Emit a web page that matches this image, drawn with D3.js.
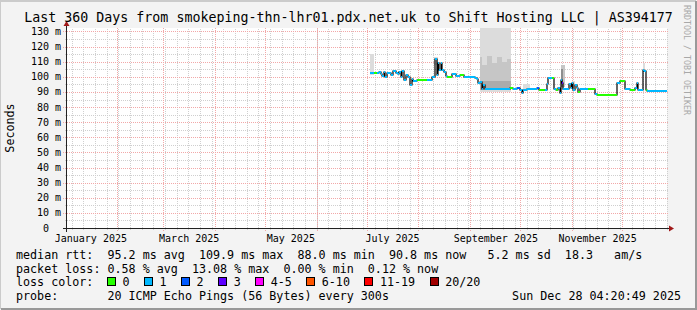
<!DOCTYPE html>
<html><head><meta charset="utf-8">
<script src="https://cdn.jsdelivr.net/npm/d3@7/dist/d3.min.js"></script>
<style>
html,body{margin:0;padding:0;background:#f3f3f3;}
svg{display:block;}
svg text{font-family:"DejaVu Sans Mono",monospace;white-space:pre;}
</style></head><body>
<svg id="chart" width="697" height="310"></svg>
<script>
// ---------------- DATA ----------------
const title = "Last 360 Days from smokeping-thn-lhr01.pdx.net.uk to Shift Hosting LLC | AS394177";
const timeStart = "2025-01-02 04:20:49";
const timeEnd = "2025-12-28 04:20:49";
const yMax = 132.3;
const yTickValues = [0,10,20,30,40,50,60,70,80,90,100,110,120,130];
const yTickLabels = ["0  ","10 m","20 m","30 m","40 m","50 m","60 m","70 m","80 m","90 m","100 m","110 m","120 m","130 m"];
const monthLabels = ["January 2025","March 2025","May 2025","July 2025","September 2025","November 2025"];
const monthLabelDates = ["2025-01-16 12","2025-03-16 12","2025-05-16 12","2025-07-16 12","2025-09-16 12","2025-11-16 12"];
const yAxisTitle = "Seconds";

const medianDates = ["2025-07-02 23","2025-07-05 09","2025-07-07 00","2025-07-08 09","2025-07-09 10","2025-07-10 09","2025-07-11 09","2025-07-12 04","2025-07-13 09","2025-07-15 10",
"2025-07-16 23","2025-07-18 10","2025-07-19 14","2025-07-20 09","2025-07-21 10","2025-07-22 09","2025-07-23 09","2025-07-24 10","2025-07-25 23","2025-07-26 23",
"2025-07-28 00","2025-07-28 23","2025-07-31 00","2025-08-06 00","2025-08-09 00","2025-08-10 09","2025-08-11 04","2025-08-12 00","2025-08-12 19","2025-08-13 13",
"2025-08-14 10","2025-08-15 09","2025-08-16 09","2025-08-17 10","2025-08-18 09","2025-08-21 09","2025-08-23 10","2025-08-25 23","2025-08-28 09","2025-09-03 23",
"2025-09-05 00","2025-09-05 23","2025-09-06 23","2025-09-08 00","2025-09-08 23","2025-09-09 23","2025-09-11 00","2025-09-24 23","2025-09-26 23","2025-09-29 00",
"2025-09-30 23","2025-10-02 00","2025-10-02 23","2025-10-05 00","2025-10-11 00","2025-10-12 13","2025-10-15 23","2025-10-17 00","2025-10-17 23","2025-10-20 04",
"2025-10-21 13","2025-10-22 14","2025-10-23 23","2025-10-24 23","2025-10-25 10","2025-10-26 04","2025-10-26 23","2025-10-30 13","2025-10-31 10","2025-11-01 04",
"2025-11-01 23","2025-11-02 23","2025-11-04 00","2025-11-04 23","2025-11-05 23","2025-11-10 19","2025-11-14 23","2025-11-16 00","2025-11-28 09","2025-11-29 23",
"2025-12-03 04","2025-12-05 23","2025-12-08 23","2025-12-10 00","2025-12-10 23","2025-12-13 14","2025-12-14 13","2025-12-15 14","2025-12-16 09"];
const medianValues = [102.3,102.3,102.8,103.4,101.9,100.5,103.0,100.1,102.3,101.2,
103.8,102.3,101.6,103.4,100.1,103.8,97.9,101.2,100.1,94.6,
98.3,97.4,97.9,97.9,99.6,100.1,111.5,101.2,109.3,104.5,
109.3,104.5,103.4,100.5,100.1,101.9,100.5,101.0,100.1,99.0,
98.3,95.7,96.8,91.7,94.6,91.7,91.9,92.4,91.7,92.8,
91.3,89.5,91.3,91.9,92.8,91.3,91.3,95.2,99.0,99.0,
91.7,91.3,92.4,89.5,97.9,95.7,91.7,95.2,92.4,95.7,
91.3,94.6,92.4,90.2,91.7,91.7,88.6,88.0,95.7,97.4,
91.7,91.3,92.8,95.7,91.3,104.5,104.0,91.3,90.8];
// loss colour class per step (index into lossLabels)
const medianLoss = [1,0,1,1,1,1,1,1,1,1,
1,1,1,1,1,1,1,1,1,1,
1,1,0,1,1,1,1,1,1,1,
1,1,1,1,0,1,1,0,1,1,
1,1,1,1,1,1,1,0,1,2,
1,1,1,1,2,0,1,1,1,0,
1,0,1,1,1,3,1,1,1,1,
1,1,1,0,1,0,1,0,1,0,
1,0,1,1,1,1,1,0,1];

// smoke (spread of the 20 pings): start, end, low, high, density layer
const smokeStart = ["2025-07-02 17","2025-08-10 09","2025-09-06 23","2025-09-06 23","2025-09-08 00","2025-09-11 00","2025-09-14 00","2025-09-17 00","2025-09-20 00","2025-09-23 00","2025-09-07 00","2025-10-03 00","2025-10-25 10","2025-10-25 10","2025-11-01 00","2025-12-13 14"];
const smokeEnd   = ["2025-07-05 09","2025-08-12 19","2025-09-25 10","2025-09-08 00","2025-09-11 00","2025-09-14 00","2025-09-17 00","2025-09-20 00","2025-09-23 00","2025-09-25 10","2025-09-25 10","2025-10-07 00","2025-10-28 00","2025-10-27 00","2025-11-03 00","2025-12-15 00"];
const smokeLow   = [101,108,90,92,91,91,91,91,91,91,91,92,93,93,93,104];
const smokeHigh  = [115,113,135,113,108,114,109,113,110,112,97,95,108,105,97,109];
const smokeLayer = [0,0,0,1,1,1,1,1,1,1,2,0,1,3,0,0];

const lossLabels = ["0","1","2","3","4-5","6-10","11-19","20/20"];
const lossColors = ["#26ff00","#00b8ff","#0059ff","#5e00ff","#ff00fe","#ff5500","#ff0000","#a10000"];

const legendRow1 = "median rtt:  95.2 ms avg  109.9 ms max  88.0 ms min  90.8 ms now   5.2 ms sd  18.3   am/s";
const legendRow2 = "packet loss: 0.58 % avg  13.08 % max  0.00 % min  0.12 % now";
const legendRow3 = "loss color:";
const legendRow4 = "probe:       20 ICMP Echo Pings (56 Bytes) every 300s";
const stamp = "Sun Dec 28 04:20:49 2025";
const watermark = "RRDTOOL / TOBI OETIKER";

// ---------------- DRAW ----------------
const W = 697, H = 310;
const P = {l:67, r:667, t:28, b:228};
const parseH = d3.timeParse("%Y-%m-%d %H");
const parseS = d3.timeParse("%Y-%m-%d %H:%M:%S");
const t0 = parseS(timeStart), t1 = parseS(timeEnd);
const x = d3.scaleTime().domain([t0, t1]).range([P.l, P.r]);
const y = d3.scaleLinear().domain([0, yMax]).range([P.b, P.t]);
const px = v => Math.round(v) + 0.5;

const svg = d3.select("#chart");
// background + frame
svg.append("rect").attr("x",0).attr("y",0).attr("width",W).attr("height",H).attr("fill","#f3f3f3");
svg.append("path").attr("d",`M0,${H-1}V1H${W-1}`).attr("stroke","#cbcbcb").attr("stroke-width",2).attr("fill","none");
svg.append("path").attr("d",`M1,${H-1}H${W-1}V1`).attr("stroke","#999999").attr("stroke-width",2).attr("fill","none");
// canvas
svg.append("rect").attr("x",P.l).attr("y",P.t).attr("width",P.r-P.l).attr("height",P.b-P.t).attr("fill","#ffffff");

svg.append("defs").append("clipPath").attr("id","pc").append("rect")
  .attr("x",P.l).attr("y",P.t).attr("width",P.r-P.l).attr("height",P.b-P.t);

const grid = svg.append("g").attr("shape-rendering","crispEdges");
// minor horizontal grid
const minorY = d3.range(5, yMax, 10);
grid.selectAll(".mh").data(minorY).join("line")
  .attr("x1",P.l-2).attr("x2",P.r+2).attr("y1",d=>px(y(d))).attr("y2",d=>px(y(d)))
  .attr("stroke","#cfcfcf").attr("stroke-dasharray","1,1");
// minor vertical grid (weekly)
const weeks = d3.timeSunday.range(t0, t1);
grid.selectAll(".mv").data(weeks).join("line")
  .attr("x1",d=>px(x(d))).attr("x2",d=>px(x(d))).attr("y1",P.b+2).attr("y2",P.t)
  .attr("stroke","#cfcfcf").attr("stroke-dasharray","1,1");
// major horizontal grid
grid.selectAll(".Mh").data(yTickValues.filter(v=>v>0)).join("line")
  .attr("x1",P.l-4).attr("x2",P.r+2).attr("y1",d=>px(y(d))).attr("y2",d=>px(y(d)))
  .attr("stroke","#f2a8a8").attr("stroke-dasharray","1,1");
// major vertical grid (monthly)
const months = d3.timeMonth.range(t0, t1);
grid.selectAll(".Mv").data(months).join("line")
  .attr("x1",d=>px(x(d))).attr("x2",d=>px(x(d))).attr("y1",P.b+3).attr("y2",P.t)
  .attr("stroke","#f2a8a8").attr("stroke-dasharray","1,1");

// smoke
const smokeFill = ["#dcdcdc","#c6c6c6","#ababab","#8e8e8e"];
const smoke = smokeStart.map((s,i)=>({s:parseH(s), e:parseH(smokeEnd[i]), lo:smokeLow[i], hi:smokeHigh[i], l:smokeLayer[i]}))
  .sort((a,b)=>a.l-b.l);
svg.append("g").attr("clip-path","url(#pc)").attr("shape-rendering","crispEdges")
  .selectAll("rect").data(smoke).join("rect")
  .attr("x",d=>Math.round(x(d.s))).attr("width",d=>Math.max(1,Math.round(x(d.e))-Math.round(x(d.s))))
  .attr("y",d=>Math.round(y(d.hi))).attr("height",d=>Math.round(y(d.lo))-Math.round(y(d.hi)))
  .attr("fill",d=>smokeFill[d.l]);

// median line
const med = medianDates.map((d,i)=>({t:parseH(d), v:medianValues[i], loss:medianLoss[i]}));
const steps = med.map((d,i)=>({t:d.t, t2: i<med.length-1 ? med[i+1].t : t1, v:d.v, loss:d.loss}));
const lg = svg.append("g").attr("clip-path","url(#pc)");
const stepLine = d3.line().x(d=>Math.round(x(d.t))).y(d=>Math.round(y(d.v))).curve(d3.curveStepAfter);
lg.append("path").datum(med.concat([{t:t1, v:med[med.length-1].v}]))
  .attr("d",stepLine).attr("fill","none").attr("stroke","#000").attr("stroke-width",1.2);
lg.selectAll(".seg").data(steps).join("line")
  .attr("x1",d=>Math.round(x(d.t))).attr("x2",d=>Math.round(x(d.t2)))
  .attr("y1",d=>Math.round(y(d.v))).attr("y2",d=>Math.round(y(d.v)))
  .attr("stroke",d=>lossColors[d.loss]).attr("stroke-width",2);

// axes
const ax = svg.append("g").attr("shape-rendering","crispEdges");
ax.append("line").attr("x1",P.l-4).attr("x2",P.r+2).attr("y1",P.b+0.5).attr("y2",P.b+0.5).attr("stroke","#222");
ax.append("line").attr("x1",P.l-0.5).attr("x2",P.l-0.5).attr("y1",P.b+4).attr("y2",P.t-2).attr("stroke","#222");
svg.append("path").attr("d",`M${P.r+2},${P.b-2.5}L${P.r+7},${P.b+0.5}L${P.r+2},${P.b+3.5}Z`).attr("fill","#a01818");
svg.append("path").attr("d",`M${P.l-3.5},${P.t-2}L${P.l-0.5},${P.t-7}L${P.l+2.5},${P.t-2}Z`).attr("fill","#a01818");

// y tick labels
svg.append("g").selectAll("text").data(yTickValues).join("text")
  .attr("x",61).attr("y",d=>y(d)+3.5).attr("text-anchor","end")
  .attr("font-size","10px").attr("fill","#000").text((d,i)=>yTickLabels[i]);
// x labels
svg.append("g").selectAll("text").data(monthLabelDates).join("text")
  .attr("x",d=>x(parseH(d))).attr("y",242).attr("text-anchor","middle")
  .attr("font-size","10px").attr("fill","#000").text((d,i)=>monthLabels[i]);
// y title
svg.append("text").attr("transform",`translate(14,${(P.t+P.b)/2}) rotate(-90)`)
  .attr("text-anchor","middle").attr("font-size","11.7px").text(yAxisTitle);
// title
svg.append("text").attr("x",W/2).attr("y",22).attr("text-anchor","middle").attr("font-size","13.3px").text(title);
// watermark
svg.append("text").attr("transform","translate(684,5) rotate(90)").attr("font-size","8.3px").attr("fill","#a8a8a8").text(watermark);

// legend
const lf = "11.7px", cw = 7.04, lx = 16;
const rows = [259, 272.5, 286, 299.5];
svg.append("text").attr("x",lx).attr("y",rows[0]).attr("font-size",lf).text(legendRow1);
svg.append("text").attr("x",lx).attr("y",rows[1]).attr("font-size",lf).text(legendRow2);
svg.append("text").attr("x",lx).attr("y",rows[2]).attr("font-size",lf).text(legendRow3);
svg.append("text").attr("x",lx).attr("y",rows[3]).attr("font-size",lf).text(legendRow4);
svg.append("text").attr("x",681).attr("y",rows[3]).attr("text-anchor","end").attr("font-size",lf).text(stamp);
let cx = lx + 13*cw - 0.5;
const lgItems = svg.append("g");
lossLabels.forEach((lab,i)=>{
  lgItems.append("rect").attr("x",Math.round(cx)+0.5).attr("y",rows[2]-8.5).attr("width",8).attr("height",8)
    .attr("fill",lossColors[i]).attr("stroke","#000").attr("stroke-width",1).attr("shape-rendering","crispEdges");
  lgItems.append("text").attr("x",cx+15.5).attr("y",rows[2]).attr("font-size",lf).text(lab);
  cx = cx + 15.5 + lab.length*cw + 14.5;
});
</script>
</body></html>
